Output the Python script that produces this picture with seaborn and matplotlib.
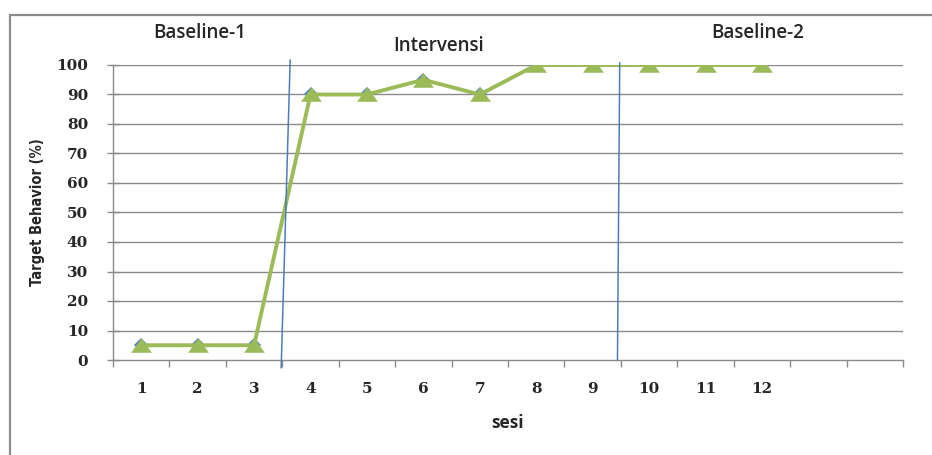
import matplotlib
matplotlib.use("Agg")
import matplotlib.pyplot as plt
from matplotlib.lines import Line2D
import seaborn as sns
import pandas as pd

# data
sesi = [1, 2, 3, 4, 5, 6, 7, 8, 9, 10, 11, 12]
target_behavior = [5, 5, 5, 90, 90, 95, 90, 100, 100, 100, 100, 100]
n_slots = 14  # category axis has two empty slots at the end
y_ticks = [0, 10, 20, 30, 40, 50, 60, 70, 80, 90, 100]
phase_names = ["Baseline-1", "Intervensi", "Baseline-2"]
# phase change lines (x at top, x at bottom), hand drawn so slightly slanted
phase_line_1 = [3.64, 3.48]
phase_line_2 = [9.48, 9.44]

df = pd.DataFrame({"sesi": sesi, "target": target_behavior})

sns.set_style("white")
fig = plt.figure(figsize=(9.32, 4.55), dpi=100)
ax = fig.add_axes([113 / 932, 1 - 360 / 455, 790 / 932, 295 / 455])

# outer chart frame: only left and top edges are inside the picture
fx, fy = 10 / 932, 1 - 15 / 455
fig.lines.append(Line2D([fx, fx], [-0.05, fy], transform=fig.transFigure,
                        color="#8c8c8c", linewidth=1.6))
fig.lines.append(Line2D([fx, 1.05], [fy, fy], transform=fig.transFigure,
                        color="#8c8c8c", linewidth=1.6))

grid_col = "#8a8a8a"
for v in y_ticks[1:]:
    ax.axhline(v, color=grid_col, linewidth=1.0, zorder=1)

# series: blue diamonds underneath, green triangles on top
sns.lineplot(data=df, x="sesi", y="target", ax=ax, color="#4f81bd",
             marker="D", markersize=7.5, markeredgewidth=0, linewidth=1.2,
             zorder=3)
tri = [(-1.0, -0.7), (1.0, -0.7), (0.0, 0.7)]
sns.lineplot(data=df, x="sesi", y="target", ax=ax, color="#9bbb59",
             marker=tri, markersize=15, markeredgewidth=0, linewidth=2.8,
             zorder=4)

blue_line = "#4a7ebb"
ax.plot(phase_line_1, [101.7, -2.7], color=blue_line, linewidth=1.1,
        clip_on=False, zorder=5)
ax.plot(phase_line_2, [100.8, 0], color=blue_line, linewidth=1.1,
        clip_on=False, zorder=5)

ax.set_xlim(0.5, n_slots + 0.5)
ax.set_ylim(0, 100)

for s in ["top", "right"]:
    ax.spines[s].set_visible(False)
for s in ["left", "bottom"]:
    ax.spines[s].set_color(grid_col)
    ax.spines[s].set_linewidth(1.0)

tick_font = dict(family="DejaVu Serif", weight="bold", size=11)
ax.set_yticks(y_ticks)
ax.set_yticklabels([str(v) for v in y_ticks], fontdict=tick_font)
ax.tick_params(axis="y", direction="inout", length=8, width=1,
               color=grid_col, pad=14, left=True)

ax.set_xticks(sesi)
ax.set_xticklabels([str(v) for v in sesi], fontdict=tick_font)
ax.set_xticks([i + 0.5 for i in range(n_slots + 1)], minor=True)
ax.tick_params(axis="x", which="major", length=0, pad=16)
ax.tick_params(axis="x", which="minor", direction="out", length=5,
               width=1, color=grid_col, bottom=True)

ax.set_ylabel("Target Behavior (%)", fontsize=10.5, fontweight="bold",
              fontstretch="condensed",
              family=["DejaVu Sans"], labelpad=8)
ax.set_xlabel("sesi", fontsize=12.5, fontweight="bold",
              family="Open Sans", labelpad=13)

lab_font = dict(family="Open Sans", fontsize=13.5, fontweight="semibold")
fig.text(200 / 932, 1 - 33 / 455, phase_names[0], ha="center", va="center", **lab_font)
fig.text(439 / 932, 1 - 46 / 455, phase_names[1], ha="center", va="center", **lab_font)
fig.text(758 / 932, 1 - 33 / 455, phase_names[2], ha="center", va="center", **lab_font)

fig.savefig("out.png", dpi=100)
